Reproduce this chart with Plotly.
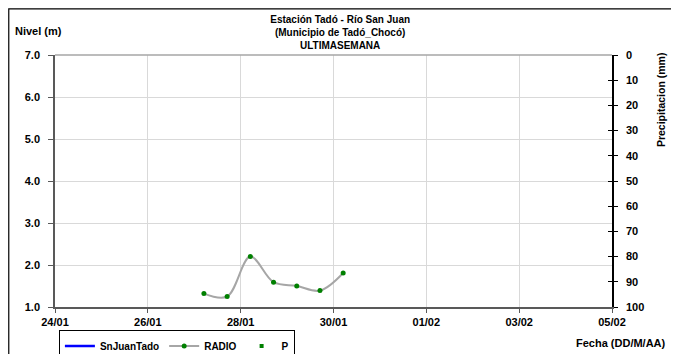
import pandas as pd
import plotly.graph_objects as go

# Lecturas RADIO (nivel en m), cada 12 h
radio_time = ["2021-01-27 05:00", "2021-01-27 17:00", "2021-01-28 05:00",
              "2021-01-28 17:00", "2021-01-29 05:00", "2021-01-29 17:00",
              "2021-01-30 05:00"]
radio_level = [1.32, 1.25, 2.20, 1.59, 1.50, 1.39, 1.81]

# Sin datos en la semana para estas series (solo leyenda)
snjuan_time = [None]
snjuan_level = [None]
precip_time = [None]
precip_mm = [None]

x_start, x_end = "2021-01-24", "2021-02-05"
title_lines = ["Estación Tadó - Río San Juan", "(Municipio de Tadó_Chocó)", "ULTIMASEMANA"]

FONT = "Liberation Sans"
DAY_MS = 86_400_000

fig = go.Figure()

fig.add_trace(go.Scatter(
    x=pd.to_datetime(snjuan_time), y=snjuan_level, name="SnJuanTado",
    mode="lines", line=dict(color="#0000ff", width=2.5),
))
fig.add_trace(go.Scatter(
    x=pd.to_datetime(radio_time), y=radio_level, name="RADIO",
    mode="lines+markers", line=dict(color="#a6a6a6", width=2, shape="spline", smoothing=1),
    marker=dict(color="#008000", size=5),
))
fig.add_trace(go.Scatter(
    x=pd.to_datetime(precip_time), y=precip_mm, name="P", yaxis="y2",
    mode="markers", marker=dict(color="#008000", size=4, symbol="square"),
))
# eje extra solo para las marcas internas del eje derecho (marcas cruzadas)
fig.add_trace(go.Scatter(x=[None], y=[None], yaxis="y3", showlegend=False, hoverinfo="skip"))

bold = dict(family=FONT, size=11, color="black", weight="bold")

# la página añade 8 px de margen al cuerpo: la figura es 16 px más pequeña
fig.update_layout(
    width=671, height=346,
    paper_bgcolor="white", plot_bgcolor="white",
    font=bold,
    margin=dict(l=47, r=67, t=47, b=47, autoexpand=False),
    title=dict(text="<br>".join(title_lines), x=0.495, xanchor="center",
               y=0.957, yanchor="top", font=dict(family=FONT, size=10, weight="bold")),
    xaxis=dict(type="date", range=[x_start, x_end], tick0=x_start, dtick=2 * DAY_MS,
               tickformat="%d/%m", showgrid=True, gridcolor="#d9d9d9", gridwidth=1,
               showline=True, linecolor="#595959", linewidth=1.5,
               ticks="outside", ticklen=4, tickcolor="#595959",
               tickfont=bold, zeroline=False, automargin=False),
    yaxis=dict(range=[1, 7], dtick=1, tickformat=".1f", showgrid=True, gridcolor="#d9d9d9",
               showline=True, linecolor="#595959", linewidth=1.5,
               ticks="outside", ticklen=5, tickcolor="#595959", ticklabelstandoff=6,
               tickfont=bold, zeroline=False, automargin=False),
    yaxis2=dict(overlaying="y", side="right", range=[100, 0], dtick=10,
                showgrid=False, showline=True, linecolor="black", linewidth=1.5,
                ticks="outside", ticklen=4, tickcolor="black", ticklabelstandoff=6,
                tickfont=bold, zeroline=False, automargin=False),
    yaxis3=dict(overlaying="y", side="right", range=[100, 0], dtick=10,
                showgrid=False, showline=False, showticklabels=False,
                ticks="inside", ticklen=4, tickcolor="black", zeroline=False,
                automargin=False),
    legend=dict(orientation="h", x=0.007, xanchor="left", y=-0.093, yanchor="top",
                bordercolor="black", borderwidth=1, bgcolor="white",
                font=dict(family=FONT, size=10, weight="bold"),
                itemwidth=30, tracegroupgap=0),
    showlegend=True,
)

# borde superior del área de trazado
fig.add_shape(type="line", xref="paper", yref="paper", x0=0, x1=1, y0=1, y1=1,
              line=dict(color="#a6a6a6", width=1.5))
# marco exterior del gráfico
fig.add_shape(type="rect", xref="paper", yref="paper", x0=-0.083, x1=1.111, y0=1.183, y1=-0.25,
              line=dict(color="black", width=1.2))

fig.add_annotation(text="Nivel (m)", xref="paper", yref="paper", x=-0.075, y=1.095,
                   xanchor="left", yanchor="middle", showarrow=False, font=bold)
fig.add_annotation(text="Fecha (DD/M/AA)", xref="paper", yref="paper", x=1.1, y=-0.143,
                   xanchor="right", yanchor="middle", showarrow=False, font=bold)
fig.add_annotation(text="Precipitacion (mm)", xref="paper", yref="paper", x=1.088, y=0.821,
                   xanchor="center", yanchor="middle", textangle=-90, showarrow=False,
                   font=dict(family=FONT, size=10.5, color="black", weight="bold"))

fig.write_html("out.html")
